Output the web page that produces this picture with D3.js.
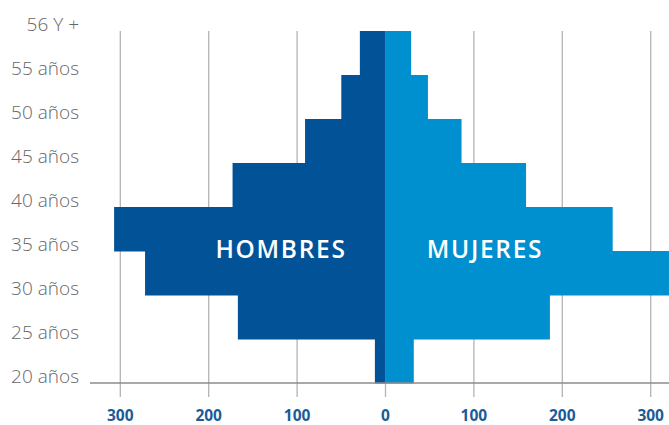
<!DOCTYPE html>
<html><head><meta charset="utf-8">
<script src="https://cdn.jsdelivr.net/npm/d3@7"></script>
<style>body{margin:0;background:#fff}svg{display:block}</style>
</head><body>
<svg id="c" width="669" height="425"></svg>
<script>
const ageLabels = ["20 años","25 años","30 años","35 años","40 años","45 años","50 años","55 años","56 Y +"];
const groups = ["20-25","25-30","30-35","35-40","40-45","45-50","50-55","55+"];
const hombres = [12, 167, 272, 307, 173, 91, 50, 29];
const mujeres = [32, 186, 325, 257, 159, 86, 48, 29];
const xTicks = [-300,-200,-100,0,100,200,300];

const svg = d3.select("#c");
const W = 669, H = 425;
const x = d3.scaleLinear().domain([-300,300]).range([120.3,650.7]);
const y = d3.scaleLinear().domain([0,8]).range([383,31]);

// gridlines
svg.append("g").selectAll("line").data(xTicks).join("line")
  .attr("x1", d=>x(d)).attr("x2", d=>x(d))
  .attr("y1", y(8)).attr("y2", 397)
  .attr("stroke","#b4b4b4").attr("stroke-width",1.3);

const data = groups.map((g,i)=>({g,i,h:hombres[i],m:mujeres[i]}));
svg.append("g").selectAll("rect").data(data).join("rect")
  .attr("x", d=>x(-d.h)).attr("width", d=>x(0)-x(-d.h))
  .attr("y", d=>y(d.i+1)).attr("height", d=>y(d.i)-y(d.i+1)+0.5)
  .attr("fill","#015296");
svg.append("g").selectAll("rect").data(data).join("rect")
  .attr("x", x(0)).attr("width", d=>Math.min(x(d.m), W)-x(0))
  .attr("y", d=>y(d.i+1)).attr("height", d=>y(d.i)-y(d.i+1)+0.5)
  .attr("fill","#0090d0");

// axis line
svg.append("line").attr("x1",90).attr("x2",W).attr("y1",y(0)).attr("y2",y(0))
  .attr("stroke","#8c8c8c").attr("stroke-width",1.3);

// x tick labels
svg.append("g").selectAll("text").data(xTicks).join("text")
  .attr("x", d=>x(d)).attr("y", 415)
  .attr("dominant-baseline","central")
  .attr("text-anchor","middle")
  .attr("font-family","'Open Sans', sans-serif").attr("font-weight",700)
  .attr("font-size",15.5).attr("fill","#1b5c98")
  .text(d=>Math.abs(d));

// y labels
svg.append("g").selectAll("text").data(ageLabels).join("text")
  .attr("x",79).attr("y",(d,i)=>y(i)-6.5)
  .attr("dy","0.35em")
  .attr("text-anchor","end")
  .attr("font-family","'Open Sans', sans-serif").attr("font-weight",300)
  .attr("font-size",19).attr("fill","#666")
  .text(d=>d);

// series labels
svg.append("text").attr("x",281).attr("y",258)
  .attr("text-anchor","middle").attr("fill","#fff")
  .attr("font-family","'Open Sans', sans-serif").attr("font-weight",600)
  .attr("font-size",24.5).attr("letter-spacing",1.7)
  .text("HOMBRES");
svg.append("text").attr("x",485).attr("y",258)
  .attr("text-anchor","middle").attr("fill","#fff")
  .attr("font-family","'Open Sans', sans-serif").attr("font-weight",600)
  .attr("font-size",24.5).attr("letter-spacing",1.7)
  .text("MUJERES");
</script>
</body></html>
